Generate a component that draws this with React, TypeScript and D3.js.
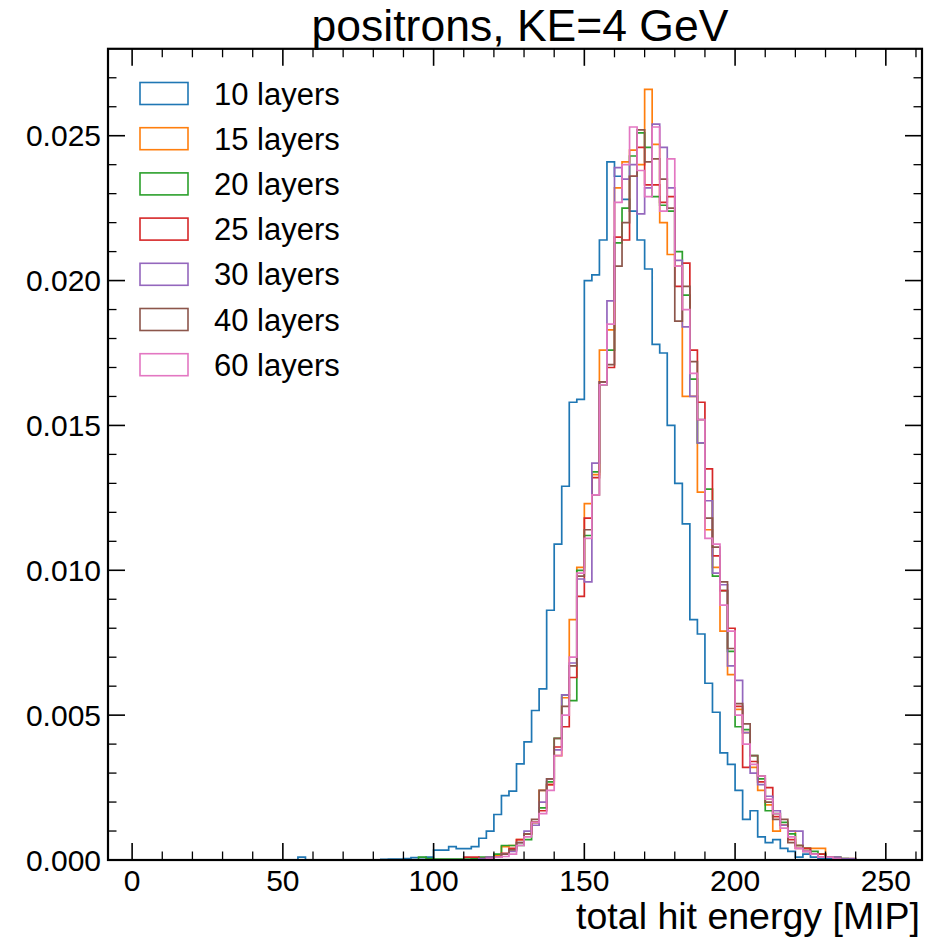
import React from "react";
import * as d3 from "d3";

const BIN_WIDTH = 2.5;

const labels = ["10 layers", "15 layers", "20 layers", "25 layers", "30 layers", "40 layers", "60 layers"];
const colors = ["#1f77b4", "#ff7f0e", "#2ca02c", "#d62728", "#9467bd", "#8c564b", "#e377c2"];
const starts = [55, 105, 95, 105, 105, 105, 105];

const layers10 = [
  0.0001, 0, 0, 0, 0, 0, 0, 0, 0, 0, 0, 0.00002, 0.00003, 0.00003,
  0.00005, 0.00008, 0.00008, 0.0001, 0.00034, 0.00034, 0.00046, 0.00039, 0.00039, 0.00046,
  0.00075, 0.001, 0.00157, 0.00222, 0.00238, 0.00332, 0.00408, 0.00516, 0.00591, 0.00862,
  0.0109, 0.0129, 0.0158, 0.0159, 0.02, 0.0202, 0.0214, 0.0241, 0.0236, 0.0228,
  0.0224, 0.0214, 0.0204, 0.0178, 0.0175, 0.015, 0.013, 0.0116, 0.0083, 0.0078,
  0.0061, 0.0051, 0.0037, 0.0033, 0.0024, 0.0014, 0.0017, 0.0008, 0.0006, 0.0007,
  0.0004, 0.0003, 0.0001, 0.0002, 0.0001, 0.00005, 0.00005,
];
const layers15 = [
  0, 0, 0, 0.00003, 0.00005, 0.0001, 0.00015, 0.00046, 0.0005, 0.0007,
  0.0009, 0.0013, 0.0024, 0.0026, 0.0036, 0.0056, 0.0083, 0.0101, 0.0123, 0.0133,
  0.0176, 0.0183, 0.0232, 0.0241, 0.0245, 0.024, 0.0266, 0.0247, 0.022, 0.0209,
  0.0205, 0.016, 0.016, 0.0127, 0.0114, 0.0101, 0.0079, 0.0064, 0.0052, 0.0044,
  0.0032, 0.0024, 0.0019, 0.001, 0.0012, 0.001, 0.0005, 0.0004, 0.0004, 0.0004,
  0.0001, 0.0001, 0.00005, 0.00005,
];
const layers20 = [
  0.0001, 0.00005, 0.00003, 0.00003, 0.00003, 0.00003, 0.00003, 0.00005, 0.0001, 0.0001,
  0.0002, 0.0005, 0.0005, 0.0005, 0.0007, 0.0013, 0.0018, 0.0027, 0.0042, 0.0057,
  0.0055, 0.01, 0.0112, 0.0134, 0.0164, 0.0176, 0.0213, 0.0225, 0.0243, 0.0251,
  0.0246, 0.0229, 0.0226, 0.0224, 0.021, 0.0195, 0.0166, 0.0144, 0.0128, 0.0098,
  0.0093, 0.0072, 0.0046, 0.0045, 0.0036, 0.0028, 0.0017, 0.0016, 0.0013, 0.0009,
  0.0005, 0.0004, 0.0003, 0.0002, 0.0001, 0.0001, 0.00005,
];
const layers25 = [
  0, 0, 0.0001, 0.0001, 0.00005, 0.00008, 0.0001, 0.00023, 0.0004, 0.0007,
  0.0009, 0.0013, 0.0017, 0.0026, 0.0039, 0.0046, 0.0063, 0.0091, 0.0118, 0.0132,
  0.0165, 0.017, 0.0215, 0.0214, 0.0236, 0.0246, 0.0233, 0.0233, 0.0227, 0.0229,
  0.0198, 0.0206, 0.0176, 0.0158, 0.0135, 0.0105, 0.0093, 0.008, 0.0053, 0.0032,
  0.0034, 0.0027, 0.0025, 0.0015, 0.0012, 0.0007, 0.0004, 0.0004, 0.0002, 0.0002,
  0.0001, 0.00005,
];
const layers30 = [
  0, 0, 0, 0, 0.00005, 0.0001, 0.0001, 0.0002, 0.0003, 0.0006,
  0.001, 0.0012, 0.002, 0.0028, 0.0038, 0.0057, 0.0068, 0.0097, 0.0096, 0.0137,
  0.0165, 0.0193, 0.0239, 0.0235, 0.024, 0.0223, 0.0232, 0.0254, 0.0246, 0.0232,
  0.0207, 0.0184, 0.016, 0.0144, 0.0124, 0.0099, 0.0095, 0.0067, 0.0062, 0.0044,
  0.003, 0.0026, 0.0022, 0.0017, 0.0012, 0.001, 0.001, 0.0003, 0.0002, 0.0001,
  0.0001, 0.0001, 0.00005, 0.00005,
];
const layers40 = [
  0, 0, 0, 0, 0, 0.00005, 0.0001, 0.0002, 0.00035, 0.0006,
  0.0009, 0.0014, 0.0024, 0.0028, 0.0042, 0.0053, 0.0067, 0.0098, 0.0114, 0.0126,
  0.0165, 0.0171, 0.0205, 0.022, 0.0236, 0.0252, 0.0241, 0.0242, 0.0235, 0.0225,
  0.0186, 0.0198, 0.0172, 0.0152, 0.0118, 0.0108, 0.0096, 0.0073, 0.0054, 0.0047,
  0.0036, 0.0029, 0.002, 0.0014, 0.0014, 0.0006, 0.0005, 0.0003, 0.0002, 0.0001,
  0.0001, 0.00005,
];
const layers60 = [
  0, 0, 0, 0, 0, 0.00005, 0.0001, 0.00012, 0.0002, 0.0005,
  0.0008, 0.0013, 0.0016, 0.0024, 0.0036, 0.005, 0.007, 0.0099, 0.0111, 0.0126,
  0.0164, 0.0185, 0.0227, 0.024, 0.0253, 0.0238, 0.0229, 0.0253, 0.0224, 0.0242,
  0.0205, 0.019, 0.0168, 0.0152, 0.0111, 0.0109, 0.0088, 0.0079, 0.005, 0.004,
  0.0033, 0.0029, 0.0021, 0.0016, 0.0011, 0.0008, 0.0004, 0.0003, 0.0002, 0.0001,
  0.0001, 0.00005,
];
const seriesValues = [layers10, layers15, layers20, layers25, layers30, layers40, layers60];

const xMajorTicks = [0, 50, 100, 150, 200, 250];
const xMinorTicks = [0, 10, 20, 30, 40, 50, 60, 70, 80, 90, 100, 110, 120, 130, 140, 150, 160, 170, 180, 190, 200, 210, 220, 230, 240, 250, 260];
const yMajorTicks = [0, 0.005, 0.01, 0.015, 0.02, 0.025];
const yMinorTicks = [0, 0.001, 0.002, 0.003, 0.004, 0.005, 0.006, 0.007, 0.008, 0.009, 0.01, 0.011, 0.012, 0.013, 0.014, 0.015, 0.016, 0.017, 0.018, 0.019, 0.02, 0.021, 0.022, 0.023, 0.024, 0.025, 0.026, 0.027];

const title = "positrons, KE=4 GeV";
const xLabel = "total hit energy [MIP]";

const W = 926;
const H = 940;
const L = 108, R = 922, T = 48.8, B = 860;
const FONT = "'Liberation Sans', Arial, Helvetica, sans-serif";

export default function App() {
  const x = d3.scaleLinear().domain([-8, 262]).range([L, R]);
  const y = d3.scaleLinear().domain([0, 0.028]).range([B, T]);
  const line = d3.line<[number, number]>().x((d) => x(d[0])).y((d) => y(d[1]));

  const paths = seriesValues.map((vals, si) => {
    const s = starts[si];
    const pts: [number, number][] = [[s, 0]];
    vals.forEach((v, i) => {
      pts.push([s + i * BIN_WIDTH, v]);
      pts.push([s + (i + 1) * BIN_WIDTH, v]);
    });
    pts.push([s + vals.length * BIN_WIDTH, 0]);
    return line(pts) as string;
  });

  const MAJ = 17, MIN = 8.5;
  const tickStroke = "#000";

  return (
    <svg width={W} height={H} style={{ position: "absolute", left: 0, top: 0, background: "#fff" }} fontFamily={FONT}>
      <rect x={0} y={0} width={W} height={H} fill="#fff" />
      <defs>
        <clipPath id="plotclip">
          <rect x={L} y={T} width={R - L} height={B - T} />
        </clipPath>
      </defs>
      <g clipPath="url(#plotclip)">
        {paths.map((d, i) => (
          <path key={i} d={d} fill="none" stroke={colors[i]} strokeWidth={1.7} />
        ))}
      </g>
      {xMinorTicks.filter((t) => !xMajorTicks.includes(t)).map((t) => (
        <g key={"xm" + t}>
          <line x1={x(t)} x2={x(t)} y1={B} y2={B - MIN} stroke={tickStroke} strokeWidth={1.3} />
          <line x1={x(t)} x2={x(t)} y1={T} y2={T + MIN} stroke={tickStroke} strokeWidth={1.3} />
        </g>
      ))}
      {yMinorTicks.filter((t) => !yMajorTicks.some((m) => Math.abs(m - t) < 1e-9)).map((t) => (
        <g key={"ym" + t}>
          <line x1={L} x2={L + MIN} y1={y(t)} y2={y(t)} stroke={tickStroke} strokeWidth={1.3} />
          <line x1={R} x2={R - MIN} y1={y(t)} y2={y(t)} stroke={tickStroke} strokeWidth={1.3} />
        </g>
      ))}
      {xMajorTicks.map((t) => (
        <g key={"xM" + t}>
          <line x1={x(t)} x2={x(t)} y1={B} y2={B - MAJ} stroke={tickStroke} strokeWidth={1.6} />
          <line x1={x(t)} x2={x(t)} y1={T} y2={T + MAJ} stroke={tickStroke} strokeWidth={1.6} />
          <text x={x(t)} y={891} textAnchor="middle" fontSize={30} fill="#000">{t}</text>
        </g>
      ))}
      {yMajorTicks.map((t) => (
        <g key={"yM" + t}>
          <line x1={L} x2={L + MAJ} y1={y(t)} y2={y(t)} stroke={tickStroke} strokeWidth={1.6} />
          <line x1={R} x2={R - MAJ} y1={y(t)} y2={y(t)} stroke={tickStroke} strokeWidth={1.6} />
          <text x={L - 7} y={y(t) + 10.5} textAnchor="end" fontSize={30} fill="#000">{t.toFixed(3)}</text>
        </g>
      ))}
      <rect x={L} y={T} width={R - L} height={B - T} fill="none" stroke="#000" strokeWidth={2.2} />
      {labels.map((lab, i) => {
        const cy = 93.5 + i * 45.2;
        return (
          <g key={lab}>
            <rect x={140} y={cy - 11} width={48} height={22} fill="none" stroke={colors[i]} strokeWidth={1.6} />
            <text x={214} y={cy + 11} fontSize={31} fill="#000">{lab}</text>
          </g>
        );
      })}
      <text x={520} y={41} textAnchor="middle" fontSize={44.5} fill="#000">{title}</text>
      <text x={920} y={929} textAnchor="end" fontSize={37.5} fill="#000">{xLabel}</text>
    </svg>
  );
}
